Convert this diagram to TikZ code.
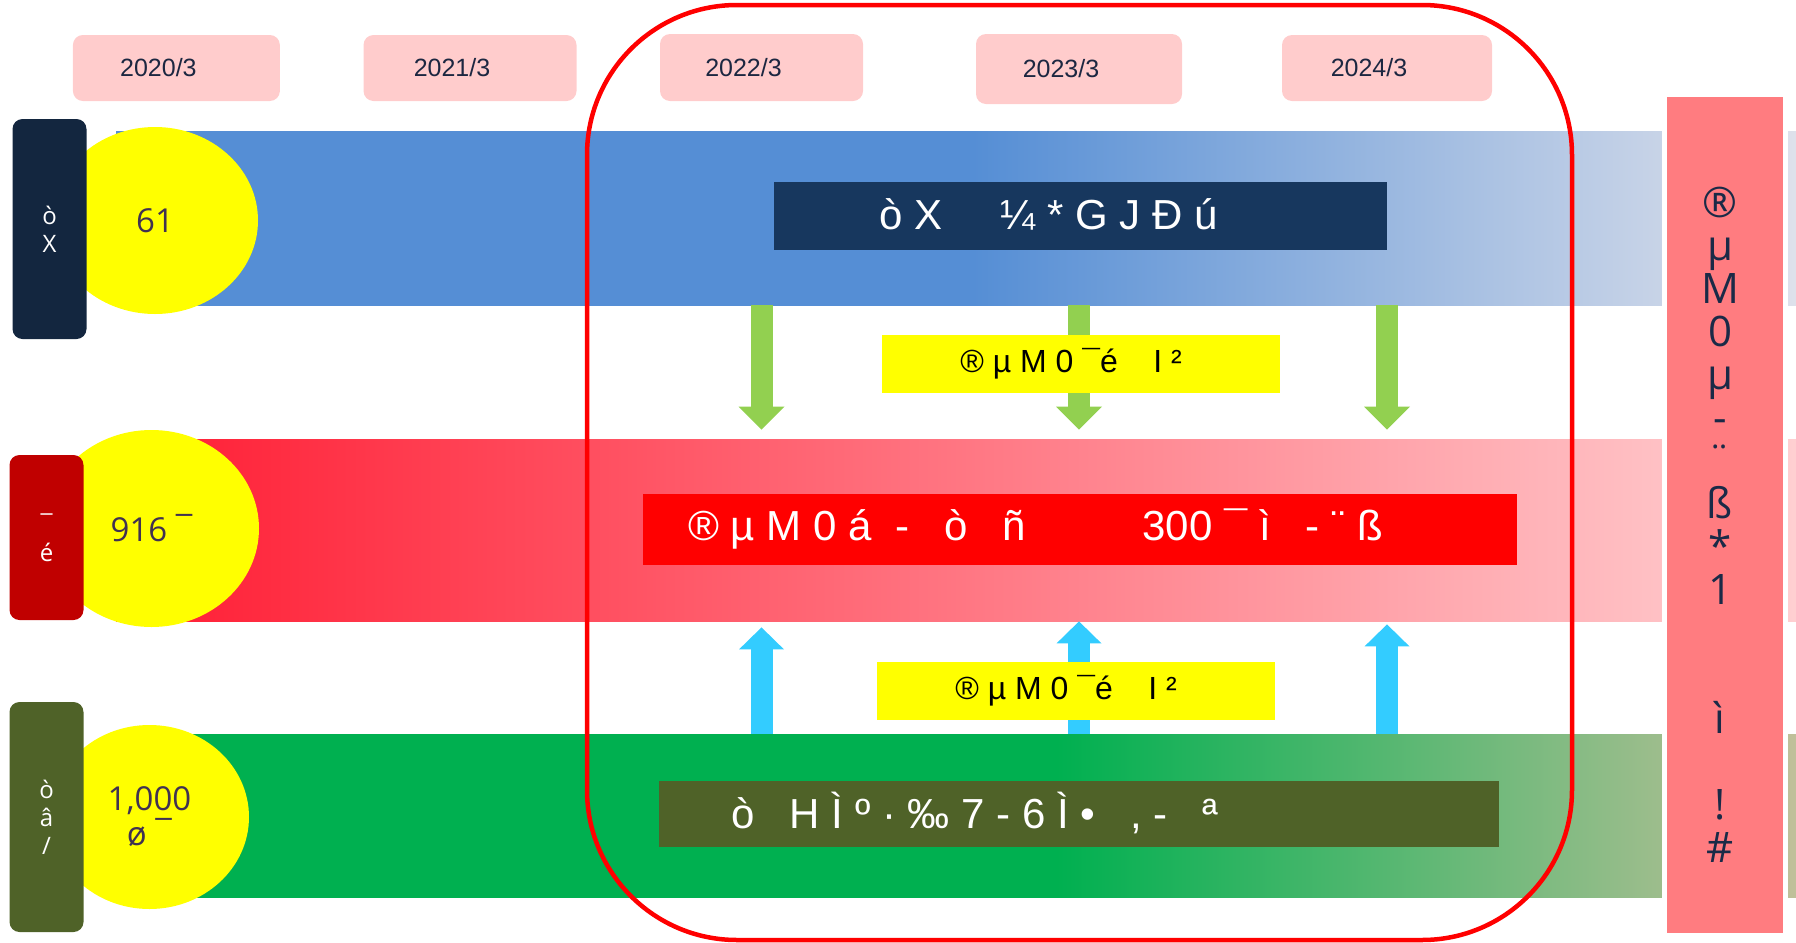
\documentclass[tikz,border=0pt]{standalone}
\usepackage{fontspec}
\setmainfont{Liberation Sans}
\newfontfamily\roundfont{Open Sans}
\usepackage{tikz}
\usetikzlibrary{arrows.meta}
\usetikzlibrary{shapes.geometric}
\usetikzlibrary{positioning}

\definecolor{datefill}{HTML}{FFCCCC}
\definecolor{datetext}{HTML}{1C2741}
\definecolor{boxnavy}{HTML}{13263F}
\definecolor{boxred}{HTML}{C00000}
\definecolor{boxolive}{HTML}{4F6228}
\definecolor{hiyellow}{HTML}{FFFF00}
\definecolor{circtext}{HTML}{403151}
\definecolor{barblue}{HTML}{558ED5}
\definecolor{bluefade}{HTML}{DEE1EB}
\definecolor{barredL}{HTML}{FF1C33}
\definecolor{barredR}{HTML}{FFCFD1}
\definecolor{bargreen}{HTML}{00B050}
\definecolor{greenfade}{HTML}{C0C09A}
\definecolor{labblue}{HTML}{17375E}
\definecolor{labred}{HTML}{FF0000}
\definecolor{arrowgreen}{HTML}{92D050}
\definecolor{arrowblue}{HTML}{33CCFF}
\definecolor{colfill}{HTML}{FF7C80}
\definecolor{coltext}{HTML}{1A2A47}
\definecolor{framered}{HTML}{FF0000}

\pgfdeclarehorizontalshading{blueshade}{100bp}{color(0bp)=(barblue); color(50.5bp)=(barblue); color(75bp)=(bluefade); color(100bp)=(bluefade)}
\pgfdeclarehorizontalshading{greenshade}{100bp}{color(0bp)=(bargreen); color(53bp)=(bargreen); color(75bp)=(greenfade); color(100bp)=(greenfade)}

\begin{document}
\begin{tikzpicture}
	[
	x=0.5pt, y=-0.5pt,
	datebox/.style = {fill=datefill, rounded corners=5pt, inner sep=0pt, minimum height=33pt, text=datetext, font=\fontsize{12.5}{15}\selectfont, execute at end node={\hspace*{18pt}}},
	bar/.style = {shade, inner sep=0pt, minimum width=840pt},
	labbox/.style = {inner sep=0pt},
	labtext/.style = {inner sep=0pt, anchor=base west, text=white, font=\fontsize{21}{25}\selectfont},
	yelbox/.style = {fill=hiyellow, inner sep=0pt, minimum width=199pt, minimum height=29pt},
	yeltext/.style = {inner sep=0pt, anchor=base west, font=\fontsize{16}{18}\selectfont},
	garrow/.style = {draw=arrowgreen, line width=11pt, shorten >=4.5pt, -{Triangle[width=23pt,length=11.5pt,line width=0pt]}},
	barrow/.style = {draw=arrowblue, line width=11pt, -{Triangle[width=22.5pt,length=11pt,line width=0pt]}},
	colbox/.style = {fill=colfill, draw=white, line width=2.5pt, inner sep=0pt, minimum width=60.5pt, minimum height=420.5pt},
	coltxt/.style = {inner sep=0pt, align=center, text=coltext, font=\roundfont\fontsize{21}{21.5}\selectfont},
	circ/.style = {ellipse, fill=hiyellow, inner sep=0pt, align=center, text=circtext, font=\roundfont\fontsize{16.5}{17.5}\selectfont},
	side/.style = {rounded corners=5pt, inner sep=0pt, minimum width=37pt, align=center, text=white, font=\roundfont\fontsize{12}{14}\selectfont},
	redframe/.style = {draw=framered, line width=2.25pt, rounded corners=75pt}
	]
	\useasboundingbox (0,0) rectangle (1796,943);

	% dates
	\node[datebox, minimum width=103.5pt] (d2020) at (176.4,68) {2020/3};
	\node[datebox, minimum width=106.5pt] (d2021) at (470,68) {2021/3};
	\node[datebox, minimum width=101.5pt, minimum height=33.5pt] (d2022) at (761.5,67.5) {2022/3};
	\node[datebox, minimum width=103pt, minimum height=35pt] (d2023) at (1079,69) {2023/3};
	\node[datebox, minimum width=105pt] (d2024) at (1387,68) {2024/3};

	% bars
	\node[bar, shading=blueshade, minimum height=87pt] (bluebar) at (956,218) {};
	\node[bar, left color=barredL, right color=barredR, minimum height=91pt] (redbar) at (956,530) {};
	\node[bar, shading=greenshade, minimum height=81.5pt] (greenbar) at (956,815.5) {};

	\node[labbox, fill=labblue, minimum width=306.5pt, minimum height=34pt] (bluelab) at (1080.5,216) {};
	\node[labtext] (bluetxt) at (879,229) {ò X~~~~~¼ * G J Đ ú};
	\node[labbox, fill=labred, minimum width=437pt, minimum height=35.5pt] (redlab) at (1080,529.5) {};
	\node[labtext] (redtxt) at (688,540) {® µ M 0 á~~-~~~ò~~~ñ~~~~~~~~~~300 ¯ ì~~~- ¨ ß};
	\node[labbox, fill=boxolive, minimum width=420pt, minimum height=33pt] (greenlab) at (1079,814) {};
	\node[labtext] (greentxt) at (731,828) {ò~~~H Ì º · ‰ 7 - 6 Ì •~~~, -~~~ª};

	% arrows
	\draw[garrow] (d2022 |- bluebar.south) -- (d2022 |- redbar.north);
	\draw[garrow] (d2023 |- bluebar.south) -- (d2023 |- redbar.north);
	\draw[garrow] (d2024 |- bluebar.south) -- (d2024 |- redbar.north);
	\draw[barrow, shorten >=3pt] (d2022 |- greenbar.north) -- (d2022 |- redbar.south);
	\draw[barrow] (d2023 |- greenbar.north) -- (d2023 |- redbar.south);
	\draw[barrow, shorten >=1.5pt] (d2024 |- greenbar.north) -- (d2024 |- redbar.south);

	\node[yelbox] (ylab1) at (1081,363.5) {};
	\node[yeltext] (ytxt1) at (960,372) {® µ M 0 ¯é~~~~I ²};
	\node[yelbox] (ylab2) at (1076,691) {};
	\node[yeltext] (ytxt2) at (955,699) {® µ M 0 ¯é~~~~I ²};

	% right column
	\node[colbox] (col) at (1725,515) {};
	\node[coltxt] (coltext) at (1720,525) {®\\\smash{µ}\\M\\0\\\smash{µ}\\-\\¨\\ß\\\mbox{*}\\1\\\mbox{}\\\mbox{}\\ì\\\mbox{}\\\mbox{!}\\\#};

	% circles and side boxes
	\node[circ, minimum width=103pt, minimum height=93.5pt] (c1) at (155,220.5) {61};
	\node[circ, minimum width=107.5pt, minimum height=98.5pt] (c2) at (151.5,528.5) {916 ¯};
	\node[circ, minimum width=99.5pt, minimum height=92pt] (c3) at (149.5,817) {1,000\\ø ¯};

	\node[side, fill=boxnavy, minimum height=110pt] (snavy) at (49.5,229) {ò\\X};
	\node[side, fill=boxred, minimum height=82.5pt] (sred) at (46.5,537.5) {¯\\é};
	\node[side, fill=boxolive, minimum height=115pt] (solive) at (46.5,817) {ò\\â\\/};

	\draw[redframe] (587,5) rectangle (1572,940);
\end{tikzpicture}
\end{document}
